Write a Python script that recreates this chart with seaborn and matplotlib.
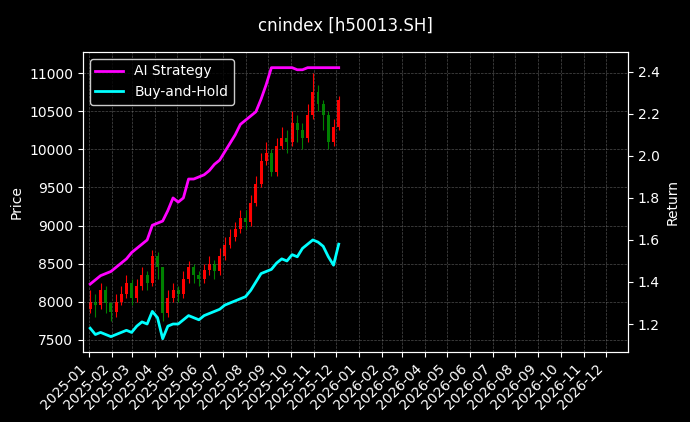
import numpy as np
import pandas as pd
import matplotlib
matplotlib.use("Agg")
import matplotlib.pyplot as plt
import matplotlib.dates as mdates
import seaborn as sns

# weekly bars (Friday dates)
dates = pd.date_range("2025-01-03", periods=49, freq="W-FRI")
close = [8000, 7950, 8150, 7980, 7870, 8000, 8100, 8250, 8050, 8200,
         8350, 8250, 8600, 8450, 7850, 8050, 8150, 8100, 8300, 8450,
         8350, 8300, 8420, 8500, 8400, 8600, 8750, 8850, 8950, 9100,
         9050, 9300, 9550, 9850, 9950, 9700, 10050, 10150, 10100, 10350,
         10250, 10150, 10450, 10750, 10600, 10450, 10100, 10300, 10650]
open_ = [7900] + close[:-1]
high = [8150, 8100, 8250, 8200, 8000, 8100, 8200, 8350, 8300, 8300,
        8450, 8400, 8680, 8650, 8450, 8150, 8250, 8200, 8400, 8530,
        8500, 8400, 8500, 8600, 8550, 8700, 8850, 8950, 9050, 9200,
        9200, 9400, 9650, 9950, 10100, 10000, 10150, 10300, 10250, 10500,
        10450, 10350, 10600, 11000, 10850, 10650, 10500, 10400, 10700]
low = [7850, 7800, 7900, 7850, 7750, 7800, 7950, 8050, 7950, 8000,
       8150, 8150, 8200, 8300, 7750, 7800, 8000, 8000, 8050, 8250,
       8250, 8200, 8250, 8350, 8300, 8350, 8550, 8700, 8800, 8900,
       8950, 9000, 9250, 9500, 9800, 9650, 9650, 10000, 9950, 10050,
       10100, 10000, 10100, 10400, 10500, 10250, 10000, 10050, 10250]
strategy = [1.39, 1.41, 1.43, 1.44, 1.45, 1.47, 1.49, 1.51, 1.54, 1.56,
            1.58, 1.60, 1.67, 1.68, 1.69, 1.74, 1.80, 1.78, 1.80, 1.89,
            1.89, 1.90, 1.91, 1.93, 1.96, 1.98, 2.02, 2.06, 2.10, 2.15,
            2.17, 2.19, 2.21, 2.27, 2.34, 2.42, 2.42, 2.42, 2.42, 2.42,
            2.41, 2.41, 2.42, 2.42, 2.42, 2.42, 2.42, 2.42, 2.42]
buyhold = [1.18, 1.15, 1.16, 1.15, 1.14, 1.15, 1.16, 1.17, 1.16, 1.19,
           1.21, 1.20, 1.26, 1.23, 1.13, 1.19, 1.20, 1.20, 1.22, 1.24,
           1.23, 1.22, 1.24, 1.25, 1.26, 1.27, 1.29, 1.30, 1.31, 1.32,
           1.33, 1.36, 1.40, 1.44, 1.45, 1.46, 1.49, 1.51, 1.50, 1.53,
           1.52, 1.56, 1.58, 1.60, 1.59, 1.57, 1.52, 1.48, 1.58]

plt.style.use("dark_background")
fig, ax = plt.subplots(figsize=(6.9, 4.22), dpi=100)
plt.subplots_adjust(left=0.12, right=0.91, top=0.877, bottom=0.166)

df = pd.DataFrame({"date": dates, "open": open_, "close": close, "high": high, "low": low})
up = df.close >= df.open
colors = np.where(up, "red", "green")
ax.vlines(df.date, df.low, df.high, colors=colors, linewidth=0.8)
ax.bar(df.date, (df.close - df.open).abs().clip(lower=20), bottom=df[["open", "close"]].min(axis=1),
       width=4, color=colors)
ax.set_ylim(7340, 11280)
ax.set_ylabel("Price")
ax.grid(True, linestyle="--", linewidth=0.5, color="gray", alpha=0.6)

ax2 = ax.twinx()
ret = pd.DataFrame({"date": list(dates) * 2, "value": strategy + buyhold,
                    "series": ["AI Strategy"] * 49 + ["Buy-and-Hold"] * 49})
sns.lineplot(data=ret, x="date", y="value", hue="series", ax=ax2,
             palette={"AI Strategy": "magenta", "Buy-and-Hold": "cyan"}, linewidth=2)
ax2.set_ylim(1.067, 2.495)
ax2.set_ylabel("Return")
ax2.set_xlabel("")
leg = ax2.legend(loc="upper left", facecolor="black", edgecolor="white", framealpha=0.8)
leg.set_title(None)

ax.set_xlim(pd.Timestamp("2024-12-24"), pd.Timestamp("2026-12-31"))
ax.xaxis.set_major_locator(mdates.MonthLocator())
ax.xaxis.set_major_formatter(mdates.DateFormatter("%Y-%m"))
plt.setp(ax.get_xticklabels(), rotation=45, ha="right")

fig.suptitle("cnindex [h50013.SH]", y=0.96)
fig.savefig("out.png", dpi=100)
